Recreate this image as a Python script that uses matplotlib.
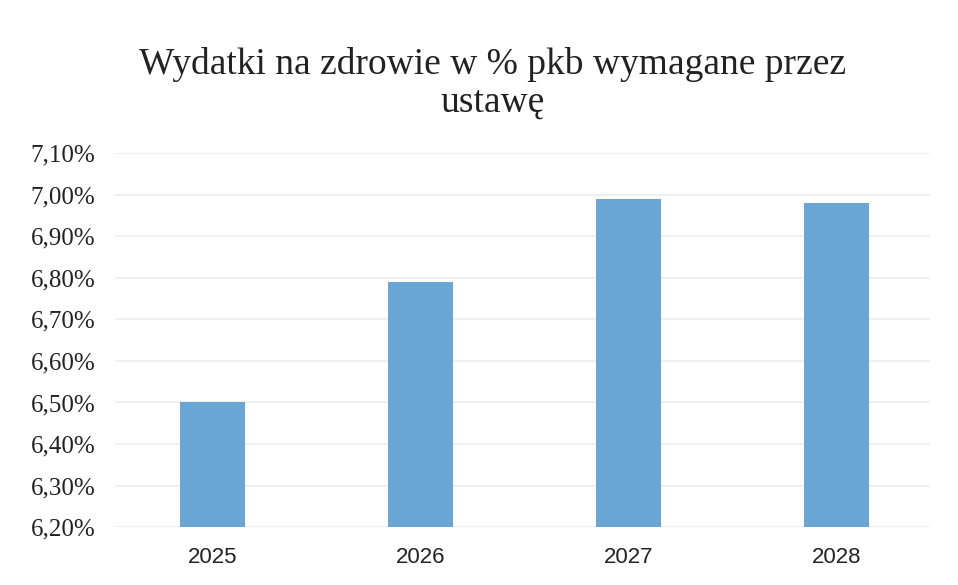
import matplotlib
matplotlib.use("Agg")
import matplotlib.pyplot as plt
from matplotlib.ticker import FuncFormatter

years = ["2025", "2026", "2027", "2028"]
values = [6.50, 6.79, 6.99, 6.98]
y_ticks = [6.2, 6.3, 6.4, 6.5, 6.6, 6.7, 6.8, 6.9, 7.0, 7.1]
title = "Wydatki na zdrowie w % pkb wymagane przez\nustawę"

fig = plt.figure(figsize=(9.58, 5.85), dpi=100)
ax = fig.add_axes([0.12, 0.099, 0.851, 0.639])

x = list(range(len(years)))
ax.bar(x, [v - 6.2 for v in values], bottom=6.2, width=0.31, color="#6aa6d4", zorder=3)

ax.set_ylim(6.2, 7.1)
ax.set_xlim(-0.47, 3.45)
ax.set_yticks(y_ticks)
ax.yaxis.set_major_formatter(FuncFormatter(lambda v, p: f"{v:.2f}".replace(".", ",") + "%"))
ax.set_xticks(x)
ax.set_xticklabels(years)
for lbl in ax.get_yticklabels():
    lbl.set_fontfamily("Liberation Serif")
    lbl.set_fontsize(18)
    lbl.set_color("#222222")
for lbl in ax.get_xticklabels():
    lbl.set_fontfamily("Liberation Sans")
    lbl.set_fontsize(16)
    lbl.set_color("#222222")

ax.grid(axis="y", color="#ececec", linewidth=1.2, zorder=0)
for s in ax.spines.values():
    s.set_visible(False)
ax.tick_params(length=0, pad=14)
ax.tick_params(axis="x", pad=14)

fig.text(0.514, 0.857, title, ha="center", va="center", fontsize=27,
         family="Liberation Serif", color="#222222", linespacing=1.12)

fig.savefig("out.png", dpi=100, facecolor="white")
